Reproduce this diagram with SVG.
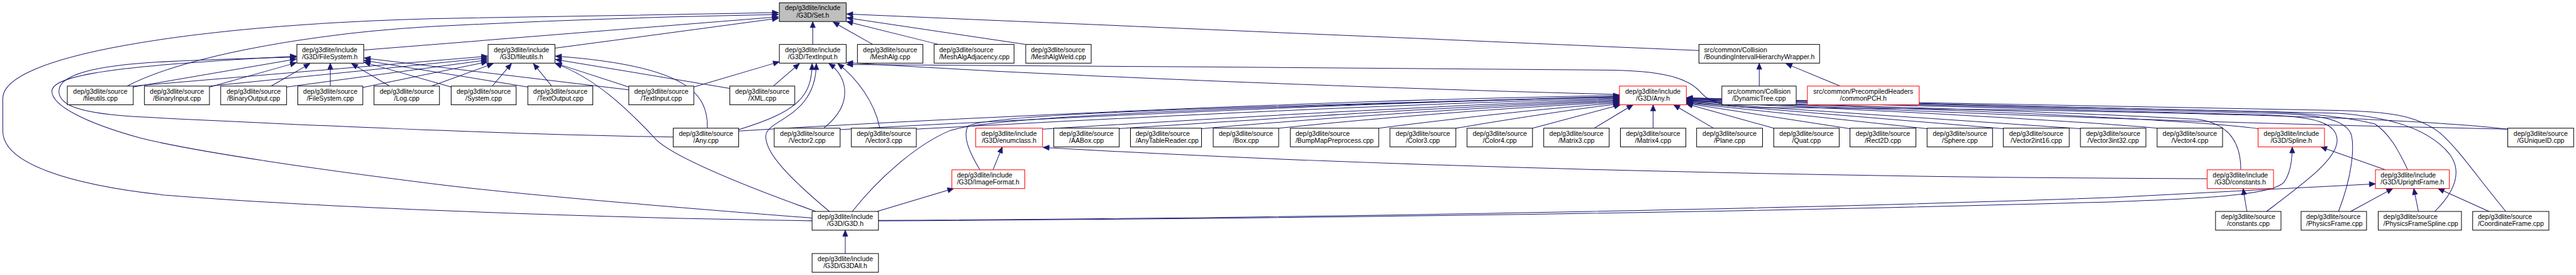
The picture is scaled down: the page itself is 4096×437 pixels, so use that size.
<svg xmlns="http://www.w3.org/2000/svg" width="4096" height="437" viewBox="0 0 4096 437">
<defs>
<style>
.nd rect{fill:#fff;stroke:#000;stroke-width:1.35}
.nd.red rect{stroke:#f00}
.nd.gray rect{fill:#bfbfbf}
.nd text{font-family:"Liberation Sans",Arial,Helvetica,sans-serif;font-size:14.2px;fill:#000;text-anchor:middle}
.nd.l text{text-anchor:start}
#edges path{fill:none;stroke:#191970;stroke-width:1.35;marker-end:url(#ah)}
</style>
<marker id="ah" markerUnits="userSpaceOnUse" markerWidth="14" markerHeight="12" refX="13" refY="5.5" orient="auto" overflow="visible">
<path d="M0,0 L13,5.5 L0,11 z" fill="#191970" stroke="#191970" stroke-width="1"/>
</marker>
</defs>
<rect x="0" y="0" width="4096" height="437" fill="#fff"/>
<g transform="scale(0.743376)">
<g id="edges">
<path d="M778,107 L1665,36"/>
<path d="M1187,103 L1665,39"/>
<path d="M272,184 C380,128 620,75 920,57 C1200,42 1450,35 1665,31"/>
<path d="M1737,472 C1300,466 700,445 352,417 C150,395 6,350 6,280 L6,210 C6,120 400,55 920,40 C1200,33 1450,29 1665,27"/>
<path d="M1738.5,95 L1738.5,46"/>
<path d="M1867,95 L1782,47"/>
<path d="M2008,95 L1811,46"/>
<path d="M2193,95 L1811,38"/>
<path d="M3634,108 L1811,30"/>
<path d="M285,186 L634,126"/>
<path d="M449,186 L634,134"/>
<path d="M580,184 L663,136"/>
<path d="M706.5,184 L706.5,135"/>
<path d="M833,184 L752,136"/>
<path d="M965,186 L779,133"/>
<path d="M1129,186 L779,129"/>
<path d="M1345,192 L779,124"/>
<path d="M1440,293 C1100,288 600,265 300,250 C170,243 126,225 126,195 C126,160 200,140 350,132 C450,127 550,124 634,122"/>
<path d="M1737,466 C1400,440 1100,415 920,392 C700,365 420,325 300,295 C180,262 111,225 111,195 C111,160 250,140 634,120"/>
<path d="M285,184 L1043,120"/>
<path d="M449,184 L1043,124"/>
<path d="M613,186 L1043,128"/>
<path d="M776,187 L1043,132"/>
<path d="M923,184 L1055,136"/>
<path d="M1053,184 L1094,136"/>
<path d="M1180,184 L1141,136"/>
<path d="M1345,186 L1188,135"/>
<path d="M1561,189 L1188,127"/>
<path d="M1513,274 C1515,200 1470,140 1188,120"/>
<path d="M1745,452 C1600,400 1450,340 1405,300 C1340,230 1270,165 1188,136"/>
<path d="M1484,186 L1667,132"/>
<path d="M1654,184 L1710,136"/>
<path d="M1580,277 C1700,240 1737,210 1737,136"/>
<path d="M1774,452 C1700,390 1636,330 1638,290 C1640,255 1746,250 1746,136"/>
<path d="M1762,274 C1830,220 1810,160 1773,136"/>
<path d="M1882,274 C1870,215 1830,165 1792,136"/>
<path d="M3464,202 C3000,190 2300,165 1811,134"/>
<path d="M5364,276 C5100,245 4300,232 3760,230 C3700,229 3660,222 3640,200 C3620,175 3580,152 3450,150 C3000,146 2300,141 1811,138"/>
<path d="M3763,184 L3763,135"/>
<path d="M3936,184 L3820,136"/>
<path d="M1580,280 C2000,255 2800,215 3464,204"/>
<path d="M1797,277 C2200,255 2900,220 3464,207"/>
<path d="M1960,276 C2300,258 2900,225 3464,210"/>
<path d="M2230,276 C2500,260 3000,228 3464,212"/>
<path d="M2394,275 C2700,255 3100,228 3464,214"/>
<path d="M2570,275 C2800,255 3150,230 3464,216"/>
<path d="M2735,274 C2950,252 3200,232 3464,218"/>
<path d="M2949,274 C3100,255 3300,232 3464,220"/>
<path d="M3114,274 C3230,255 3350,235 3464,222"/>
<path d="M3278,274 L3466,224"/>
<path d="M3410,274 L3493,224"/>
<path d="M3536,274 L3536,224"/>
<path d="M3665,274 L3580,224"/>
<path d="M3794,274 L3607,222"/>
<path d="M3957,275 L3607,221"/>
<path d="M4122,275 L3607,220"/>
<path d="M4285,275 L3607,219"/>
<path d="M4450,275 L3607,218"/>
<path d="M4614,274 C4400,255 4000,235 3607,217"/>
<path d="M4830,275 C4700,258 4300,238 3607,216"/>
<path d="M5364,276 C5100,270 4600,262 3607,215"/>
<path d="M4793,363 C4793,320 4780,265 4700,255 C4400,238 4000,228 3607,214"/>
<path d="M4848,452 C4930,390 4999,340 4999,300 C4999,262 4950,250 4850,246 C4400,236 4000,226 3607,213"/>
<path d="M5002,452 C5030,380 5036,320 5030,290 C5020,252 4950,244 4850,242 C4400,233 4000,224 3607,212"/>
<path d="M5208,452 C5260,400 5262,360 5240,330 C5200,280 5120,250 5000,242 C4500,232 4000,222 3607,211"/>
<path d="M5360,452 C5300,380 5260,320 5220,285 C5170,245 5100,238 5000,236 C4500,228 4000,220 3607,210"/>
<path d="M5150,363 C5130,320 5110,285 5080,265 C5000,245 4900,240 4800,238 C4400,230 4000,220 3607,209"/>
<path d="M2096,363 C2070,320 2060,290 2070,270 C2100,250 2400,232 3464,208"/>
<path d="M1823,452 C1880,380 1960,310 2030,280 C2100,255 2400,236 3464,206"/>
<path d="M2124,363 L2144,314"/>
<path d="M4721,382 C4000,380 3000,360 2231,315"/>
<path d="M1876,452 L2040,403"/>
<path d="M5102,363 L4964,314"/>
<path d="M1879,472 C2500,469 3600,458 4500,432 C4700,425 4860,418 4885,390 C4900,370 4903,340 4903,314"/>
<path d="M1879,471 C2500,468 3600,455 4520,422 L5081,393"/>
<path d="M5028,452 L5118,403"/>
<path d="M5173,452 L5163,403"/>
<path d="M5324,452 L5215,403"/>
<path d="M4806,452 L4798,403"/>
<path d="M1808,542 L1808,492"/>
</g>
<g id="setH" class="nd gray"><rect x="1667" y="6" width="143" height="40"/><text x="1738.5" y="22">dep/g3dlite/include</text><text x="1738.5" y="37">/G3D/Set.h</text></g>
<g id="fileSystemH" class="nd l"><rect x="635" y="95" width="143" height="40"/><text x="646" y="111">dep/g3dlite/include</text><text x="646" y="126">/G3D/FileSystem.h</text></g>
<g id="fileutilsH" class="nd"><rect x="1044" y="95" width="143" height="40"/><text x="1115.5" y="111">dep/g3dlite/include</text><text x="1115.5" y="126">/G3D/fileutils.h</text></g>
<g id="textInputH" class="nd"><rect x="1667" y="95" width="143" height="40"/><text x="1738.5" y="111">dep/g3dlite/include</text><text x="1738.5" y="126">/G3D/TextInput.h</text></g>
<g id="meshAlgCpp" class="nd"><rect x="1834" y="95" width="140" height="40"/><text x="1904" y="111">dep/g3dlite/source</text><text x="1904" y="126">/MeshAlg.cpp</text></g>
<g id="meshAlgAdjacencyCpp" class="nd l"><rect x="1998" y="95" width="171" height="40"/><text x="2009" y="111">dep/g3dlite/source</text><text x="2009" y="126">/MeshAlgAdjacency.cpp</text></g>
<g id="meshAlgWeldCpp" class="nd l"><rect x="2194" y="95" width="140" height="40"/><text x="2205" y="111">dep/g3dlite/source</text><text x="2205" y="126">/MeshAlgWeld.cpp</text></g>
<g id="bihWrapperH" class="nd l"><rect x="3634" y="95" width="258" height="40"/><text x="3645" y="111">src/common/Collision</text><text x="3645" y="126">/BoundingIntervalHierarchyWrapper.h</text></g>
<g id="fileutilsCpp" class="nd"><rect x="144" y="184" width="141" height="40"/><text x="214.5" y="200">dep/g3dlite/source</text><text x="214.5" y="215">/fileutils.cpp</text></g>
<g id="binaryInputCpp" class="nd"><rect x="309" y="184" width="139" height="40"/><text x="378.5" y="200">dep/g3dlite/source</text><text x="378.5" y="215">/BinaryInput.cpp</text></g>
<g id="binaryOutputCpp" class="nd"><rect x="472" y="184" width="141" height="40"/><text x="542.5" y="200">dep/g3dlite/source</text><text x="542.5" y="215">/BinaryOutput.cpp</text></g>
<g id="fileSystemCpp" class="nd"><rect x="637" y="184" width="139" height="40"/><text x="706.5" y="200">dep/g3dlite/source</text><text x="706.5" y="215">/FileSystem.cpp</text></g>
<g id="logCpp" class="nd"><rect x="800" y="184" width="140" height="40"/><text x="870" y="200">dep/g3dlite/source</text><text x="870" y="215">/Log.cpp</text></g>
<g id="systemCpp" class="nd"><rect x="965" y="184" width="139" height="40"/><text x="1034.5" y="200">dep/g3dlite/source</text><text x="1034.5" y="215">/System.cpp</text></g>
<g id="textOutputCpp" class="nd"><rect x="1129" y="184" width="139" height="40"/><text x="1198.5" y="200">dep/g3dlite/source</text><text x="1198.5" y="215">/TextOutput.cpp</text></g>
<g id="textInputCpp" class="nd"><rect x="1345" y="184" width="139" height="40"/><text x="1414.5" y="200">dep/g3dlite/source</text><text x="1414.5" y="215">/TextInput.cpp</text></g>
<g id="xmlCpp" class="nd"><rect x="1561" y="184" width="139" height="40"/><text x="1630.5" y="200">dep/g3dlite/source</text><text x="1630.5" y="215">/XML.cpp</text></g>
<g id="anyH" class="nd red"><rect x="3464" y="184" width="143" height="40"/><text x="3535.5" y="200">dep/g3dlite/include</text><text x="3535.5" y="215">/G3D/Any.h</text></g>
<g id="dynamicTreeCpp" class="nd"><rect x="3683" y="184" width="159" height="40"/><text x="3762.5" y="200">src/common/Collision</text><text x="3762.5" y="215">/DynamicTree.cpp</text></g>
<g id="commonPCH" class="nd red"><rect x="3866" y="184" width="239" height="40"/><text x="3985.5" y="200">src/common/PrecompiledHeaders</text><text x="3985.5" y="215">/commonPCH.h</text></g>
<g id="anyCpp" class="nd"><rect x="1440" y="274" width="140" height="40"/><text x="1510" y="290">dep/g3dlite/source</text><text x="1510" y="305">/Any.cpp</text></g>
<g id="vector2Cpp" class="nd"><rect x="1656" y="274" width="141" height="40"/><text x="1726.5" y="290">dep/g3dlite/source</text><text x="1726.5" y="305">/Vector2.cpp</text></g>
<g id="vector3Cpp" class="nd"><rect x="1821" y="274" width="139" height="40"/><text x="1890.5" y="290">dep/g3dlite/source</text><text x="1890.5" y="305">/Vector3.cpp</text></g>
<g id="enumclassH" class="nd red"><rect x="2087" y="274" width="143" height="40"/><text x="2158.5" y="290">dep/g3dlite/include</text><text x="2158.5" y="305">/G3D/enumclass.h</text></g>
<g id="aaboxCpp" class="nd"><rect x="2254" y="274" width="140" height="40"/><text x="2324" y="290">dep/g3dlite/source</text><text x="2324" y="305">/AABox.cpp</text></g>
<g id="anyTableReaderCpp" class="nd l"><rect x="2418" y="274" width="152" height="40"/><text x="2429" y="290">dep/g3dlite/source</text><text x="2429" y="305">/AnyTableReader.cpp</text></g>
<g id="boxCpp" class="nd"><rect x="2595" y="274" width="140" height="40"/><text x="2665" y="290">dep/g3dlite/source</text><text x="2665" y="305">/Box.cpp</text></g>
<g id="bumpMapPreprocessCpp" class="nd l"><rect x="2760" y="274" width="189" height="40"/><text x="2771" y="290">dep/g3dlite/source</text><text x="2771" y="305">/BumpMapPreprocess.cpp</text></g>
<g id="color3Cpp" class="nd"><rect x="2973" y="274" width="141" height="40"/><text x="3043.5" y="290">dep/g3dlite/source</text><text x="3043.5" y="305">/Color3.cpp</text></g>
<g id="color4Cpp" class="nd"><rect x="3138" y="274" width="140" height="40"/><text x="3208" y="290">dep/g3dlite/source</text><text x="3208" y="305">/Color4.cpp</text></g>
<g id="matrix3Cpp" class="nd"><rect x="3302" y="274" width="140" height="40"/><text x="3372" y="290">dep/g3dlite/source</text><text x="3372" y="305">/Matrix3.cpp</text></g>
<g id="matrix4Cpp" class="nd"><rect x="3466" y="274" width="140" height="40"/><text x="3536" y="290">dep/g3dlite/source</text><text x="3536" y="305">/Matrix4.cpp</text></g>
<g id="planeCpp" class="nd"><rect x="3629" y="274" width="141" height="40"/><text x="3699.5" y="290">dep/g3dlite/source</text><text x="3699.5" y="305">/Plane.cpp</text></g>
<g id="quatCpp" class="nd"><rect x="3794" y="274" width="140" height="40"/><text x="3864" y="290">dep/g3dlite/source</text><text x="3864" y="305">/Quat.cpp</text></g>
<g id="rect2DCpp" class="nd"><rect x="3957" y="274" width="141" height="40"/><text x="4027.5" y="290">dep/g3dlite/source</text><text x="4027.5" y="305">/Rect2D.cpp</text></g>
<g id="sphereCpp" class="nd"><rect x="4122" y="274" width="140" height="40"/><text x="4192" y="290">dep/g3dlite/source</text><text x="4192" y="305">/Sphere.cpp</text></g>
<g id="vector2int16Cpp" class="nd"><rect x="4285" y="274" width="141" height="40"/><text x="4355.5" y="290">dep/g3dlite/source</text><text x="4355.5" y="305">/Vector2int16.cpp</text></g>
<g id="vector3int32Cpp" class="nd"><rect x="4450" y="274" width="140" height="40"/><text x="4520" y="290">dep/g3dlite/source</text><text x="4520" y="305">/Vector3int32.cpp</text></g>
<g id="vector4Cpp" class="nd"><rect x="4614" y="274" width="140" height="40"/><text x="4684" y="290">dep/g3dlite/source</text><text x="4684" y="305">/Vector4.cpp</text></g>
<g id="splineH" class="nd red"><rect x="4830" y="274" width="142" height="40"/><text x="4901" y="290">dep/g3dlite/include</text><text x="4901" y="305">/G3D/Spline.h</text></g>
<g id="gUniqueIDCpp" class="nd"><rect x="5364" y="274" width="141" height="40"/><text x="5434.5" y="290">dep/g3dlite/source</text><text x="5434.5" y="305">/GUniqueID.cpp</text></g>
<g id="imageFormatH" class="nd red l"><rect x="2036" y="363" width="156" height="40"/><text x="2047" y="379">dep/g3dlite/include</text><text x="2047" y="394">/G3D/ImageFormat.h</text></g>
<g id="constantsH" class="nd red"><rect x="4721" y="363" width="142" height="40"/><text x="4792" y="379">dep/g3dlite/include</text><text x="4792" y="394">/G3D/constants.h</text></g>
<g id="uprightFrameH" class="nd red l"><rect x="5081" y="363" width="158" height="40"/><text x="5092" y="379">dep/g3dlite/include</text><text x="5092" y="394">/G3D/UprightFrame.h</text></g>
<g id="g3dH" class="nd"><rect x="1737" y="452" width="142" height="40"/><text x="1808" y="468">dep/g3dlite/include</text><text x="1808" y="483">/G3D/G3D.h</text></g>
<g id="constantsCpp" class="nd"><rect x="4739" y="452" width="140" height="40"/><text x="4809" y="468">dep/g3dlite/source</text><text x="4809" y="483">/constants.cpp</text></g>
<g id="physicsFrameCpp" class="nd l"><rect x="4922" y="452" width="140" height="40"/><text x="4933" y="468">dep/g3dlite/source</text><text x="4933" y="483">/PhysicsFrame.cpp</text></g>
<g id="physicsFrameSplineCpp" class="nd l"><rect x="5087" y="452" width="178" height="40"/><text x="5098" y="468">dep/g3dlite/source</text><text x="5098" y="483">/PhysicsFrameSpline.cpp</text></g>
<g id="coordinateFrameCpp" class="nd l"><rect x="5289" y="452" width="163" height="40"/><text x="5300" y="468">dep/g3dlite/source</text><text x="5300" y="483">/CoordinateFrame.cpp</text></g>
<g id="g3dAllH" class="nd"><rect x="1737" y="542" width="142" height="40"/><text x="1808" y="558">dep/g3dlite/include</text><text x="1808" y="573">/G3D/G3DAll.h</text></g>
</g>
</svg>
